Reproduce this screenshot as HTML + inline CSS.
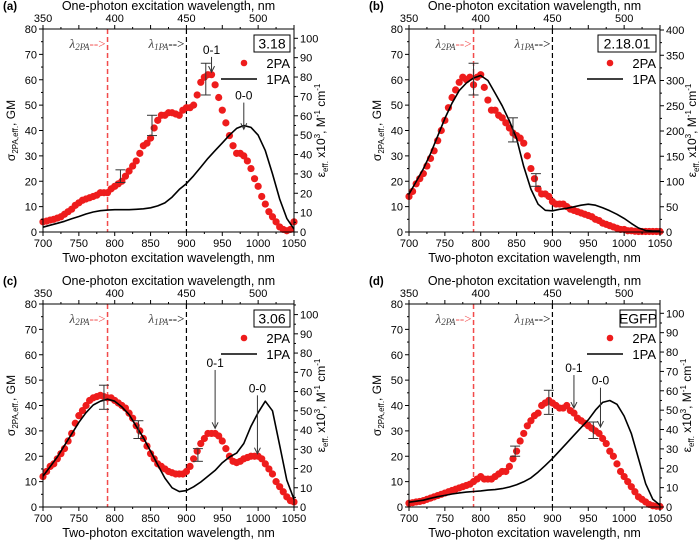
<!DOCTYPE html>
<html><head><meta charset="utf-8"><style>
body{margin:0;background:#fff;}
svg{display:block;font-family:"Liberation Sans",sans-serif;}
</style></head><body>
<svg id="fig" width="700" height="543" viewBox="0 0 700 543"></svg>
<script>
const wl2 = [];
for (let w = 700; w <= 1050; w += 5) wl2.push(w);
const wl1 = [];
for (let w = 700; w <= 1050; w += 10) wl1.push(w);

const a2PA = [4,4.3,4.7,5,5.5,6,7,8,9,10.5,11.5,12.5,13,13.5,14,14.5,15.5,15.5,15.5,17,18,19,20,22,24,26,28,31,34,35,37,41,44,46,46,47,47,46.5,46,48,49,49,50,54,59,61,62,62,58,53,48,43,38,34,31,31,30,28,25,21,18,14,11,8,6,4,2,1,0.5,1,4];
const a1PA = [2.5,3.5,4.5,5.5,6.8,8,9.3,10.3,11,11.3,11.5,11.5,11.5,11.7,12,12.5,13.5,15,18,22,25,29,33.5,38,42,46,50,53.5,55,54,50,42,30,17,7,1.5];
const b2PA = [14,16,19,21,23,26,29,32,36,40,44,49,53,56,59,61,60,61,58,61,62,57,52,48,48,46,45,43,41,39,38,37,35,30,25,21,17,15,15,14,12,11,11,11,10,9,8.5,8,7.5,7,6.5,6,5,4.5,3.5,3,2.5,2,1.5,1,1,0.5,0.5,0.3,0.2,0.2,0.2,0.2,0.2,0.2,0.2];
const b1PA = [75,100,125,155,190,225,255,280,295,305,310,300,275,250,220,185,130,85,55,43,42,45,47,50,53,55,53,48,42,35,27,17,8,3,2,2];
const c2PA = [12,14,16,17,19,21,23,26,29,33,36,38,40,42,43,43.5,44,43.5,43,43,42,41,40,39,37,35,32,30,27,24,21,19,17,16,15,14,13.5,13,13,13,14,16,19,22,25,27,29,29,29,28,26,23,20,18,17.5,18,19,19.5,20,20,20,19,17,15,13,10,8,6,4,2.5,2];
const c1PA = [16,21,26,32,38,44,49,53,55,56,55,52,48,42,36,29,22,15,10,8,8.5,10.5,13,16,19,23,26,28,33,42,49,55,50,32,14,4];
const d2PA = [1.5,1.7,2,2.2,2.5,3,3.5,4,4.5,5,5.5,6,6.5,7,7.5,8,8.5,9,10,11,12,11,11,11,12,13,14,14,16,19,22,26,29,32,34,36,37,40,41,42,41,40,39,39,40,38,37,35,34,33,32,31,30,29,27,25,22,20,17,14,12,10,8,6,4,3,2,1,0.5,0.3,0.2];
const d1PA = [2.5,3,3.5,4.5,5.3,6,6.7,7.3,7.7,8,8.3,8.7,9,9.5,10.3,11.5,13,15,18,21.5,25,29,33,37,41,45,50,54,55,53,47,38,25,12,4,1];

const xTicks = [700,750,800,850,900,950,1000,1050];
const topTicks = [350,400,450,500];
const leftTicks = [0,10,20,30,40,50,60,70,80];
const rightTicksStd = [0,10,20,30,40,50,60,70,80,90,100];
const rightTicksB = [0,50,100,150,200,250,300,350,400];

const panels = [
 {id:'a',ox:43,oy:29,label:'3.18',rmax:104.8,rt:rightTicksStd,p2:a2PA,p1:a1PA,
  err:[[808,19.5,24.5],[852,38,46],[927,54,66.5]],
  ann:[['0-1',935,69,63],['0-0',980,51,40.5]]},
 {id:'b',ox:409,oy:29,label:'2.18.01',rmax:402,rt:rightTicksB,p2:b2PA,p1:b1PA,
  err:[[790,54,66.5],[845,35.5,45],[877,18,23]],ann:[]},
 {id:'c',ox:43,oy:304,label:'3.06',rmax:105.5,rt:rightTicksStd,p2:c2PA,p1:c1PA,
  err:[[785,38.5,48],[833,27,34],[916,18,23]],
  ann:[['0-1',940,54,31],['0-0',999,44,21]]},
 {id:'d',ox:409,oy:304,label:'EGFP',rmax:104.8,rt:rightTicksStd,p2:d2PA,p1:d1PA,
  err:[[848,20,24],[895,36.5,46],[957,27,33.5]],
  ann:[['0-1',930,52,39],['0-0',967,47,31.5]]}
];
const W=251,H=203;
const NS='http://www.w3.org/2000/svg';
const svg=document.getElementById('fig');
function mk(tag,attrs,parent,text){const e=document.createElementNS(NS,tag);for(const k in attrs)e.setAttribute(k,attrs[k]);if(text!==undefined)e.textContent=text;parent.appendChild(e);return e;}

panels.forEach(p=>{
 const g=mk('g',{transform:`translate(${p.ox},${p.oy})`},svg);
 
 
 const xs=w=>(w-700)/350*W;
 const yl=v=>H-v/80*H;
 const yr=v=>H-v/p.rmax*H;
 let l=mk('line',{x1:xs(790),x2:xs(790),y1:0,y2:H,stroke:'#f24b4b','stroke-width':1.5,'stroke-dasharray':'5,3'},g);
 
 
 l=mk('line',{x1:xs(900),x2:xs(900),y1:0,y2:H,stroke:'#000','stroke-width':1.2,'stroke-dasharray':'5,3'},g);
 
 
 let t=mk('text',{x:xs(790)-2,y:19,'text-anchor':'end','font-size':13,'font-family':'Liberation Serif,serif',fill:'#444'},g);
 
 
 t.innerHTML='<tspan font-style="italic">λ</tspan><tspan font-size="9" dy="2" font-style="italic">2PA</tspan><tspan dy="-2" fill="#f24b4b">--&gt;</tspan>';
 t=mk('text',{x:xs(900)-2,y:19,'text-anchor':'end','font-size':13,'font-family':'Liberation Serif,serif',fill:'#444'},g);
 
 
 t.innerHTML='<tspan font-style="italic">λ</tspan><tspan font-size="9" dy="2" font-style="italic">1PA</tspan><tspan dy="-2" fill="#000">--&gt;</tspan>';
 p.p2.forEach((v,i)=>{const c=mk('circle',{cx:xs(wl2[i]),cy:yl(v),r:3.6,fill:'#ee1c1c'},g);
  
  });
 const pts=p.p1.map((v,i)=>xs(wl1[i]).toFixed(1)+','+yr(v).toFixed(1)).join(' ');
 const pl=mk('polyline',{points:pts,fill:'none',stroke:'#000','stroke-width':1.6,'stroke-linejoin':'round'},g);
 
 
 p.err.forEach(e=>{const eg=mk('g',{stroke:'#333','stroke-width':1},g);
  
  
  const x=xs(e[0]);mk('line',{x1:x,x2:x,y1:yl(e[1]),y2:yl(e[2])},eg);
  mk('line',{x1:x-5,x2:x+5,y1:yl(e[1]),y2:yl(e[1])},eg);
  mk('line',{x1:x-5,x2:x+5,y1:yl(e[2]),y2:yl(e[2])},eg);});
 p.ann.forEach(a=>{const x=xs(a[1]);
  const at=mk('text',{x:x,y:yl(a[2])-3,'text-anchor':'middle','font-size':12},g,a[0]);
  
  
  const ar=mk('g',{stroke:'#333','stroke-width':1,fill:'none'},g);
  
  
  mk('line',{x1:x,x2:x,y1:yl(a[2]),y2:yl(a[3])},ar);
  mk('polyline',{points:`${x-3},${yl(a[3])-6} ${x},${yl(a[3])} ${x+3},${yl(a[3])-6}`},ar);});
 const bw=p.label.length>5?58:36;
 const lb=mk('rect',{x:W-4-bw,y:6,width:bw,height:17,fill:'#fff',stroke:'#000','stroke-width':1},g);
 
 
 t=mk('text',{x:W-4-bw/2,y:19.5,'text-anchor':'middle','font-size':14},g,p.label);
 
 
 let lc=mk('circle',{cx:W-50,cy:34,r:3.3,fill:'#ee1c1c'},g);
 
 
 t=mk('text',{x:W-4,y:39,'text-anchor':'end','font-size':13},g,'2PA');
 
 
 lc=mk('line',{x1:W-73,x2:W-37,y1:50,y2:50,stroke:'#000','stroke-width':1.6},g);
 
 
 t=mk('text',{x:W-4,y:55,'text-anchor':'end','font-size':13},g,'1PA');
 
 
 const fr=mk('rect',{x:0,y:0,width:W,height:H,fill:'none',stroke:'#000','stroke-width':1},g);
 
 
 const ax=mk('g',{stroke:'#000','stroke-width':1},g);
 
 
 xTicks.forEach((v,i)=>{const x=xs(v);mk('line',{x1:x,x2:x,y1:H,y2:H+4},ax);
  if(i<xTicks.length-1){const xm=xs(v+25);mk('line',{x1:xm,x2:xm,y1:H,y2:H+2},ax);mk('line',{x1:xm,x2:xm,y1:0,y2:-2},ax);}
  mk('line',{x1:x,x2:x,y1:0,y2:-4},ax);
  const tl=mk('text',{x:x,y:H+15,'text-anchor':'middle','font-size':11,stroke:'none'},g,v);
  
  });
 topTicks.forEach(v=>{const tl=mk('text',{x:xs(v*2),y:-7,'text-anchor':'middle','font-size':11},g,v);
  
  });
 leftTicks.forEach((v,i)=>{const y=yl(v);mk('line',{x1:-4,x2:0,y1:y,y2:y},ax);
  if(i<leftTicks.length-1){const ym=yl(v+5);mk('line',{x1:-2,x2:0,y1:ym,y2:ym},ax);}
  const tl=mk('text',{x:-6,y:y+4,'text-anchor':'end','font-size':11},g,v);
  
  });
 const step=p.rt[1]-p.rt[0];
 p.rt.forEach(v=>{const y=yr(v);mk('line',{x1:W,x2:W+4,y1:y,y2:y},ax);
  if(v+step/2<p.rmax){const ym=yr(v+step/2);mk('line',{x1:W,x2:W+2,y1:ym,y2:ym},ax);}
  const tl=mk('text',{x:W+6,y:y+4,'text-anchor':'start','font-size':11},g,v);
  
  });
 t=mk('text',{x:W/2,y:H+30,'text-anchor':'middle','font-size':12.5},g,'Two-photon excitation wavelength, nm');
 
 
 t=mk('text',{x:W/2,y:-19,'text-anchor':'middle','font-size':12.5},g,'One-photon excitation wavelength, nm');
 
 
 t=mk('text',{x:-40,y:-19,'font-size':11.5,'font-weight':'bold'},g,'('+p.id+')');
 
 
 t=mk('text',{transform:`translate(-28,${H/2}) rotate(-90)`,'text-anchor':'middle','font-size':12},g);
 
 
 t.innerHTML='σ<tspan font-size="8" dy="3">2PA,eff.</tspan><tspan dy="-3">, GM</tspan>';
 t=mk('text',{transform:`translate(${p.rt===rightTicksB?W+36:W+31},${H/2}) rotate(-90)`,'text-anchor':'middle','font-size':12},g);
 
 
 t.innerHTML='ε<tspan font-size="8" dy="3">eff.</tspan><tspan dy="-3"> x10</tspan><tspan font-size="8" dy="-5">3</tspan><tspan dy="5">,  M</tspan><tspan font-size="8" dy="-5">-1</tspan><tspan dy="5"> cm</tspan><tspan font-size="8" dy="-5">-1</tspan>';
});
</script>
</body></html>
